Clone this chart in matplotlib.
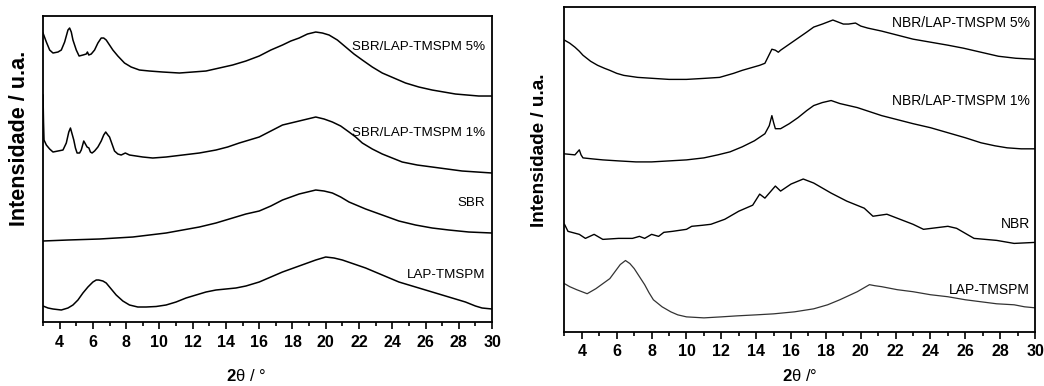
import matplotlib
matplotlib.use('Agg')
import matplotlib.pyplot as plt
from matplotlib.ticker import MultipleLocator

plt.rcParams['font.family'] = ['Liberation Sans', 'DejaVu Sans']
plt.rcParams['mathtext.fontset'] = 'custom'
plt.rcParams['mathtext.bf'] = 'Liberation Sans:bold'

# left panel: SBR series (2theta, intensity a.u.)
sbr5_x = [3.0, 3.2, 3.4, 3.6, 3.9, 4.1, 4.3, 4.5, 4.6, 4.7, 4.8, 5.0, 5.17, 5.4, 5.6, 5.67, 5.75, 5.9,
          6.1, 6.3, 6.5, 6.65, 6.8, 7.0, 7.2, 7.5, 7.9, 8.3, 8.8, 9.4, 10.2, 11.2, 12.0, 12.8, 13.6,
          14.4, 15.2, 16.0, 16.7, 17.4, 17.9, 18.4, 18.9, 19.4, 19.8, 20.2, 20.7, 21.2, 21.7, 22.2,
          22.8, 23.4, 24.1, 24.8, 25.6, 26.4, 27.1, 27.8, 28.5, 29.2, 30.0]
sbr5_y = [289, 280, 272, 269, 270, 272, 280, 292, 294, 290, 282, 272, 266, 267, 268, 270, 267, 268,
          272, 279, 284, 284, 282, 277, 272, 266, 259, 255, 252, 251, 250, 249, 250, 251, 254,
          257, 261, 266, 272, 277, 281, 284, 288, 290, 289, 287, 282, 275, 268, 262,
          255, 249, 244, 239, 235, 232, 230, 228, 227, 226, 226]

sbr1_x = [3.0, 3.03, 3.06, 3.2, 3.4, 3.6, 3.9, 4.2, 4.4, 4.55, 4.65, 4.75, 4.85, 4.95, 5.05, 5.2,
          5.3, 5.45, 5.55, 5.65, 5.76, 5.85, 5.95, 6.1, 6.3, 6.5, 6.65, 6.77, 6.9, 7.0, 7.15, 7.3,
          7.5, 7.7, 7.95, 8.2, 8.6, 9.0, 9.6, 10.4, 11.4, 12.4, 13.4, 14.1, 14.8, 15.4, 16.0, 16.7,
          17.4, 17.9, 18.4, 18.9, 19.4, 19.9, 20.4, 20.9, 21.4, 21.8, 22.2, 22.8, 23.4, 24.0, 24.6,
          25.5, 26.4, 27.3, 28.2, 29.1, 30.0]
sbr1_y = [227, 200, 182, 177, 173, 170, 171, 172, 179, 190, 194, 188, 182, 174, 169, 169,
          172, 181, 178, 175, 174, 170, 169, 171, 175, 181, 187, 190, 187, 185, 178, 171,
          168, 167, 169, 167, 166, 165, 164, 165, 167, 169, 172, 175, 179, 182, 185, 191,
          197, 199, 201, 203, 205, 203, 200, 196, 190, 185, 179, 173, 168, 164, 160,
          157, 155, 153, 151, 150, 149]

sbr_x = [3.0, 4.5, 6.4, 7.4, 8.4, 9.4, 10.4, 11.4, 12.4, 13.4, 14.4, 15.2, 16.0, 16.7, 17.4, 17.9,
         18.4, 18.9, 19.4, 19.9, 20.4, 20.9, 21.4, 22.4, 23.4, 24.4, 25.4, 26.4, 27.4, 28.6, 30.0]
sbr_y = [81, 82, 83, 84, 85, 87, 89, 92, 95, 99, 104, 108, 111, 116, 122, 125,
         128, 130, 132, 131, 129, 125, 120, 113, 107, 101, 97, 94, 92, 90, 89]

lapl_x = [3.0, 3.3, 3.6, 4.1, 4.5, 4.8, 5.1, 5.4, 5.7, 6.0, 6.2, 6.35, 6.6, 6.8, 7.1, 7.4, 7.8, 8.2,
          8.7, 9.2, 9.8, 10.4, 11.0, 11.6, 12.2, 12.8, 13.4, 14.0, 14.6, 15.2, 16.0, 16.7, 17.4,
          18.4, 19.4, 20.0, 20.5, 21.0, 21.7, 22.4, 23.4, 24.4, 25.4, 26.4, 27.4, 28.4, 29.0,
          29.4, 30.0]
lapl_y = [16, 14, 13, 12, 14, 17, 22, 29, 35, 40, 42, 42, 41, 39, 33, 27, 21, 17,
          15, 15, 15.5, 17, 20, 24, 27, 30, 32, 33, 34, 36, 40, 45, 50,
          56, 62, 65, 64, 62, 58, 54, 47, 40, 35, 30, 25, 20, 16,
          14, 13]

# right panel: NBR series
nbr5_x = [3.0, 3.3, 3.6, 3.85, 4.06, 4.5, 4.9, 5.3, 5.6, 6.0, 6.4, 7.2, 8.1, 9.0, 10.0, 11.0, 11.9,
          12.3, 12.7, 13.2, 13.8, 14.2, 14.5, 14.7, 14.9, 15.1, 15.27, 15.4, 15.9, 16.4, 16.9, 17.3,
          17.8, 18.1, 18.4, 18.7, 19.0, 19.3, 19.7, 20.0, 20.4, 21.2, 22.1, 23.0, 24.0, 25.0, 25.9,
          26.9, 27.9, 28.9, 30.0]
nbr5_y = [290, 287, 283, 279, 275, 269, 265, 262, 260, 257, 255, 253, 252, 251, 251, 252, 253,
          255, 257, 260, 263, 265, 267, 274, 281, 280, 278, 280, 286, 292, 298, 303,
          306, 308, 310, 308, 306, 306, 307, 304, 302, 299, 295, 291, 288, 285, 282,
          278, 274, 272, 271]

nbr1_x = [3.0, 3.6, 3.75, 3.85, 3.95, 4.06, 4.6, 5.2, 6.1, 7.1, 8.0, 9.0, 10.0, 11.0, 11.8, 12.5,
          13.2, 13.9, 14.5, 14.75, 14.9, 15.0, 15.1, 15.4, 15.9, 16.4, 16.9, 17.3, 17.8, 18.3, 18.8,
          19.3, 19.8, 20.5, 21.2, 22.1, 23.0, 24.0, 25.0, 26.0, 26.9, 27.7, 28.4, 29.2, 30.0]
nbr1_y = [177, 176, 179, 181, 176, 173, 172, 171, 170, 169, 169, 170, 171, 173, 176, 179,
          184, 190, 197, 205, 215, 208, 202, 202, 207, 213, 220, 225, 228, 230, 227,
          225, 223, 219, 215, 211, 207, 203, 198, 193, 188, 185, 183, 182, 182]

nbr_x = [3.0, 3.2, 3.85, 4.2, 4.7, 5.2, 6.1, 6.9, 7.3, 7.6, 8.0, 8.4, 8.7, 9.2, 10.0, 10.3, 10.9,
         11.4, 12.2, 13.0, 13.8, 14.2, 14.5, 15.1, 15.4, 16.0, 16.7, 17.3, 18.3, 19.2, 20.2, 20.7,
         21.5, 23.0, 23.6, 25.0, 25.5, 26.5, 27.8, 28.8, 30.0]
nbr_y = [107, 100, 97, 93, 97, 92, 93, 93, 95, 93, 97, 95, 99, 100, 102, 105, 106,
         107, 112, 120, 126, 137, 133, 145, 140, 147, 152, 148, 138, 130, 123, 115,
         117, 107, 102, 105, 103, 93, 91, 88, 89]

lapr_x = [3.0, 3.3, 3.7, 4.0, 4.3, 4.6, 4.8, 5.2, 5.6, 5.9, 6.2, 6.5, 6.75, 7.0, 7.3, 7.6, 7.85, 8.1,
          8.6, 9.1, 9.5, 10.0, 11.0, 12.0, 12.9, 14.0, 15.0, 16.2, 17.3, 18.1, 18.8, 19.3, 19.8,
          20.2, 20.5, 20.8, 21.2, 22.1, 23.0, 24.0, 25.0, 26.0, 26.9, 27.8, 28.8, 29.4, 30.0]
lapr_y = [48, 45, 42, 40, 38, 41, 43, 48, 53, 60, 67, 71, 68, 63, 55, 47, 39, 32,
          25, 20, 17, 15, 14, 15, 16, 17, 18, 20, 23, 27, 32, 36, 40,
          44, 47, 46, 45, 42, 40, 37, 35, 32, 30, 28, 27, 25, 24]

left_labels = ['SBR/LAP-TMSPM 5%', 'SBR/LAP-TMSPM 1%', 'SBR', 'LAP-TMSPM']
left_label_y = [275, 189, 119, 47]
right_labels = ['NBR/LAP-TMSPM 5%', 'NBR/LAP-TMSPM 1%', 'NBR', 'LAP-TMSPM']
right_label_y = [307, 230, 107, 42]

fig = plt.figure(figsize=(10.44, 3.86), dpi=100)
ax1 = fig.add_axes([0.0412, 0.1658, 0.4301, 0.7927])
ax2 = fig.add_axes([0.5407, 0.1400, 0.4507, 0.8420])

for x, y in [(sbr5_x, sbr5_y), (sbr1_x, sbr1_y), (sbr_x, sbr_y), (lapl_x, lapl_y)]:
    ax1.plot(x, y, color='black', lw=1.1)
for x, y in [(nbr5_x, nbr5_y), (nbr1_x, nbr1_y), (nbr_x, nbr_y)]:
    ax2.plot(x, y, color='black', lw=1.0)
ax2.plot(lapr_x, lapr_y, color='#333333', lw=0.9)

ax1.set_ylim(0, 306)
ax2.set_ylim(0, 323)

for lab, yy in zip(left_labels, left_label_y):
    ax1.text(29.6, yy, lab, ha='right', va='center', fontsize=9.6)
for lab, yy in zip(right_labels, right_label_y):
    ax2.text(29.7, yy, lab, ha='right', va='center', fontsize=10)

for ax in (ax1, ax2):
    ax.set_xlim(3, 30)
    ax.xaxis.set_major_locator(MultipleLocator(2))
    ax.xaxis.set_minor_locator(MultipleLocator(1))
    ax.set_xticks(range(4, 31, 2))
    ax.set_yticks([])
    ax.tick_params(axis='x', which='major', direction='out', length=5, width=1.2,
                   labelsize=11.5, pad=4)
    ax.tick_params(axis='x', which='minor', direction='out', length=3, width=1.2)
    for lbl in ax.get_xticklabels():
        lbl.set_fontweight('bold')
    for s in ax.spines.values():
        s.set_linewidth(1.3)

ax1.set_ylabel('Intensidade / u.a.', fontsize=15.5, fontweight='bold')
ax2.set_ylabel('Intensidade / u.a.', fontsize=13.7, fontweight='bold')
ax1.yaxis.set_label_coords(-0.03, 0.6)
ax2.yaxis.set_label_coords(-0.036, 0.56)
ax1.set_xlabel(r'$\mathbf{2}$θ / °', fontsize=12)
ax2.set_xlabel(r'$\mathbf{2}$θ /°', fontsize=12)
ax1.xaxis.set_label_coords(0.452, -0.15)
ax2.xaxis.set_label_coords(0.5, -0.111)

fig.savefig('out.png', dpi=100)
